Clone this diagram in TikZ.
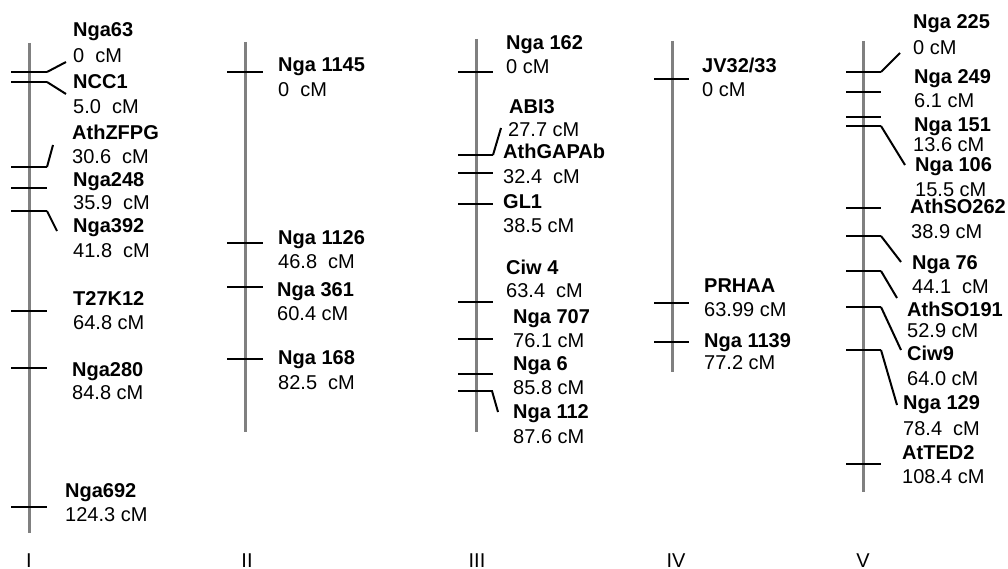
\documentclass[tikz,border=0pt]{standalone}
\usepackage{fontspec}
\setmainfont{Liberation Sans}
\usepackage{xcolor}
\usepackage{tikz}
\usetikzlibrary{positioning}
\definecolor{grisChr}{RGB}{128,128,128}
\newcommand{\mapfont}{\fontsize{20}{24}\selectfont}

\begin{document}
\begin{tikzpicture}[
			x=1pt, y=-1pt,
			chrom/.style={draw=grisChr, line width=3pt},
			tick/.style={draw=black, line width=2.6pt},
			lead/.style={draw=black, line width=2pt},
			mname/.style={anchor=base west, inner sep=0pt, font=\mapfont\bfseries},
			mpos/.style={anchor=base west, inner sep=0pt, font=\mapfont},
			chrlab/.style={anchor=base, inner sep=0pt, font=\mapfont}
			]
			\useasboundingbox (0,0) rectangle (1008,569);
			
			% chromosome I
			\coordinate (c1top) at (29,43);
			\coordinate (c1bot) at (29,533);
			\draw[chrom] (c1top) -- (c1bot);
			\node[chrlab] (c1lab) at (29,567) {I};
			\coordinate (nga63) at (29,72);
			\coordinate (ncc1) at (29,82);
			\coordinate (athzfpg) at (29,167);
			\coordinate (nga248) at (29,188);
			\coordinate (nga392) at (29,211);
			\coordinate (t27k12) at (29,311);
			\coordinate (nga280) at (29,368);
			\coordinate (nga692) at (29,507);
			\node[mname] (nga63n) at (73,37)    {Nga63};
			\node[mpos]  (nga63p) at (73,63)    {0~~cM};
			\node[mname] (ncc1n) at (73,89)     {NCC1};
			\node[mpos]  (ncc1p) at (73,114)    {5.0~~cM};
			\node[mname] (athzfpgn) at (72,140) {AthZFPG};
			\node[mpos]  (athzfpgp) at (72,164) {30.6~~cM};
			\node[mname] (nga248n) at (73,187)  {Nga248};
			\node[mpos]  (nga248p) at (73,210)  {35.9~~cM};
			\node[mname] (nga392n) at (73,233)  {Nga392};
			\node[mpos]  (nga392p) at (73,257)  {41.8~~cM};
			\node[mname] (t27k12n) at (73,305)  {T27K12};
			\node[mpos]  (t27k12p) at (73,329)  {64.8 cM};
			\node[mname] (nga280n) at (72,376)  {Nga280};
			\node[mpos]  (nga280p) at (72,399)  {84.8 cM};
			\node[mname] (nga692n) at (65,497)  {Nga692};
			\node[mpos]  (nga692p) at (65,521)  {124.3 cM};
			\foreach \m in {nga63,ncc1,athzfpg,nga248,nga392,t27k12,nga280,nga692}
				\draw[tick] ([xshift=-18]\m) -- ([xshift=18]\m);
			\coordinate (nga63e) at (66,62);
			\coordinate (ncc1e) at (66,94);
			\coordinate (athzfpge) at (53,145);
			\coordinate (nga392e) at (57,231);
			\draw[lead] ([xshift=18]nga63) -- (nga63e);
			\draw[lead] ([xshift=18]ncc1) -- (ncc1e);
			\draw[lead] ([xshift=18]athzfpg) -- (athzfpge);
			\draw[lead] ([xshift=18]nga392) -- (nga392e);
			
			% chromosome II
			\coordinate (c2top) at (245,42);
			\coordinate (c2bot) at (245,432);
			\draw[chrom] (c2top) -- (c2bot);
			\node[chrlab] (c2lab) at (247,567) {II};
			\coordinate (nga1145) at (245,72);
			\coordinate (nga1126) at (245,243);
			\coordinate (nga361) at (245,287);
			\coordinate (nga168) at (245,359);
			\node[mname] (nga1145n) at (278,72)  {Nga 1145};
			\node[mpos]  (nga1145p) at (278,97)  {0~~cM};
			\node[mname] (nga1126n) at (278,244) {Nga 1126};
			\node[mpos]  (nga1126p) at (278,268) {46.8~~cM};
			\node[mname] (nga361n) at (277,296)  {Nga 361};
			\node[mpos]  (nga361p) at (277,320)  {60.4 cM};
			\node[mname] (nga168n) at (278,364)  {Nga 168};
			\node[mpos]  (nga168p) at (278,389)  {82.5~~cM};
			\foreach \m in {nga1145,nga1126,nga361,nga168}
				\draw[tick] ([xshift=-18]\m) -- ([xshift=18]\m);
			
			% chromosome III
			\coordinate (c3top) at (476,39);
			\coordinate (c3bot) at (476,432);
			\draw[chrom] (c3top) -- (c3bot);
			\node[chrlab] (c3lab) at (477,567) {III};
			\coordinate (nga162) at (476,72);
			\coordinate (abi3) at (476,155);
			\coordinate (athgapab) at (476,173);
			\coordinate (gl1) at (476,204);
			\coordinate (ciw4) at (476,302);
			\coordinate (nga707) at (476,339);
			\coordinate (nga6) at (476,374);
			\coordinate (nga112) at (476,391);
			\node[mname] (nga162n) at (506,50)   {Nga 162};
			\node[mpos]  (nga162p) at (506,74)   {0 cM};
			\node[mname] (abi3n) at (509,114)    {ABI3};
			\node[mpos]  (abi3p) at (508,137)    {27.7 cM};
			\node[mname] (athgapabn) at (503,159) {AthGAPAb};
			\node[mpos]  (athgapabp) at (503,184) {32.4~~cM};
			\node[mname] (gl1n) at (503,209)     {GL1};
			\node[mpos]  (gl1p) at (503,233)     {38.5 cM};
			\node[mname] (ciw4n) at (506,274)    {Ciw 4};
			\node[mpos]  (ciw4p) at (506,297)    {63.4~~cM};
			\node[mname] (nga707n) at (513,323)  {Nga 707};
			\node[mpos]  (nga707p) at (513,347)  {76.1 cM};
			\node[mname] (nga6n) at (513,370)    {Nga 6};
			\node[mpos]  (nga6p) at (513,394)    {85.8 cM};
			\node[mname] (nga112n) at (513,418)  {Nga 112};
			\node[mpos]  (nga112p) at (513,443)  {87.6 cM};
			\foreach \m in {nga162,abi3,athgapab,gl1,ciw4,nga707,nga6,nga112}
				\draw[tick] ([xshift=-18]\m) -- ([xshift=17]\m);
			\coordinate (abi3e) at (501,128);
			\coordinate (nga112e) at (498,412);
			\draw[lead] ([xshift=17]abi3) -- (abi3e);
			\draw[lead] ([xshift=16]nga112) -- (nga112e);
			
			% chromosome IV
			\coordinate (c4top) at (672,41);
			\coordinate (c4bot) at (672,372);
			\draw[chrom] (c4top) -- (c4bot);
			\node[chrlab] (c4lab) at (676,567) {IV};
			\coordinate (jv3233) at (672,79);
			\coordinate (prhaa) at (672,303);
			\coordinate (nga1139) at (672,342);
			\node[mname] (jv3233n) at (702,73)   {JV32/33};
			\node[mpos]  (jv3233p) at (702,97)   {0 cM};
			\node[mname] (prhaan) at (704,292)   {PRHAA};
			\node[mpos]  (prhaap) at (704,316)   {63.99 cM};
			\node[mname] (nga1139n) at (704,347) {Nga 1139};
			\node[mpos]  (nga1139p) at (704,369) {77.2 cM};
			\foreach \m in {jv3233,prhaa,nga1139}
				\draw[tick] ([xshift=-18]\m) -- ([xshift=17]\m);
			
			% chromosome V
			\coordinate (c5top) at (863,41);
			\coordinate (c5bot) at (863,492);
			\draw[chrom] (c5top) -- (c5bot);
			\node[chrlab] (c5lab) at (863,567) {V};
			\coordinate (nga225) at (863,72);
			\coordinate (nga249) at (863,92);
			\coordinate (nga151) at (863,117);
			\coordinate (nga106) at (863,126);
			\coordinate (athso262) at (863,208);
			\coordinate (nga76) at (863,236);
			\coordinate (athso191) at (863,271);
			\coordinate (ciw9) at (863,307);
			\coordinate (nga129) at (863,350);
			\coordinate (atted2) at (863,464);
			\node[mname] (nga225n) at (913,29)    {Nga 225};
			\node[mpos]  (nga225p) at (913,55)    {0 cM};
			\node[mname] (nga249n) at (914,84)    {Nga 249};
			\node[mpos]  (nga249p) at (914,108)   {6.1 cM};
			\node[mname] (nga151n) at (914,132)   {Nga 151};
			\node[mpos]  (nga151p) at (913,152)   {13.6 cM};
			\node[mname] (nga106n) at (915,172)   {Nga 106};
			\node[mpos]  (nga106p) at (915,197)   {15.5 cM};
			\node[mname] (athso262n) at (910,214) {AthSO262};
			\node[mpos]  (athso262p) at (911,239) {38.9 cM};
			\node[mname] (nga76n) at (912,269)    {Nga 76};
			\node[mpos]  (nga76p) at (912,293)    {44.1~~cM};
			\node[mname] (athso191n) at (907,316) {AthSO191};
			\node[mpos]  (athso191p) at (907,337) {52.9 cM};
			\node[mname] (ciw9n) at (907,360)     {Ciw9};
			\node[mpos]  (ciw9p) at (907,385)     {64.0 cM};
			\node[mname] (nga129n) at (903,409)   {Nga 129};
			\node[mpos]  (nga129p) at (903,435)   {78.4~~cM};
			\node[mname] (atted2n) at (902,459)   {AtTED2};
			\node[mpos]  (atted2p) at (902,483)   {108.4 cM};
			\foreach \m in {nga225,nga249,nga151,nga106,athso262,nga76,athso191,ciw9,nga129,atted2}
				\draw[tick] ([xshift=-17]\m) -- ([xshift=18]\m);
			\coordinate (nga225e) at (900,53);
			\coordinate (nga106e) at (905,165);
			\coordinate (nga76e) at (901,262);
			\coordinate (athso191e) at (897,298);
			\coordinate (ciw9e) at (901,350);
			\coordinate (nga129e) at (897,405);
			\draw[lead] ([xshift=18]nga225) -- (nga225e);
			\draw[lead] ([xshift=18]nga106) -- (nga106e);
			\draw[lead] ([xshift=18]nga76) -- (nga76e);
			\draw[lead] ([xshift=18]athso191) -- (athso191e);
			\draw[lead] ([xshift=18]ciw9) -- (ciw9e);
			\draw[lead] ([xshift=18]nga129) -- (nga129e);
		\end{tikzpicture}
\end{document}
